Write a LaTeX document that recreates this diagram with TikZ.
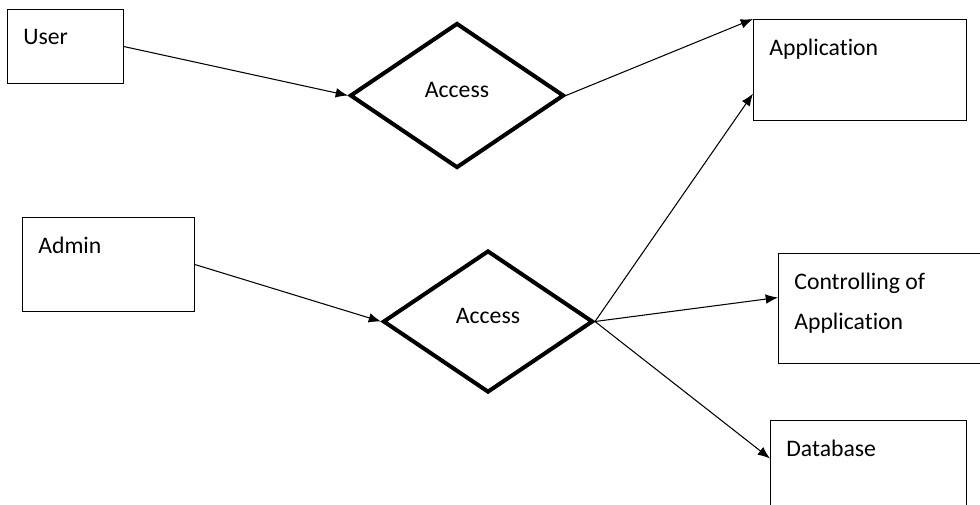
\documentclass[tikz,border=0pt]{standalone}
\usepackage{fontspec}
\setmainfont{Carlito}[Ligatures=NoCommon]
\usetikzlibrary{shapes.geometric,arrows.meta,calc}

\tikzset{
  entity/.style={draw, line width=0.7pt, anchor=north west, inner sep=0pt},
  entname/.style={anchor=north west, inner sep=0pt, xshift=0.32cm, yshift=-0.4cm, align=left},
  relation/.style={draw, diamond, line width=2.3pt, inner sep=0pt, text depth=0.24cm},
  link/.style={line width=0.6pt, -{Latex[length=7pt,width=5.5pt]}}
}

\begin{document}
\begin{tikzpicture}[x=0.02cm, y=-0.02cm, font=\fontsize{13.5}{22.7}\selectfont]
\useasboundingbox (0,0) rectangle (980,504);
% actors
\node[entity, minimum width=2.32cm, minimum height=1.48cm, label={[entname]north west:User}] (U) at (7,9) {};
\node[entity, minimum width=3.44cm, minimum height=1.88cm, label={[entname]north west:Admin}] (Ad) at (22,217) {};
% relations
\node[relation, minimum width=4.28cm, minimum height=2.9cm] (A1) at (457,95.5) {Access};
\node[relation, minimum width=4.2cm, minimum height=2.84cm] (A2) at (488,321.5) {Access};
% targets
\node[entity, minimum width=4.26cm, minimum height=2.02cm, label={[entname]north west:Application}] (App) at (753,19) {};
\node[entity, minimum width=4.34cm, minimum height=2.2cm, label={[entname]north west:Controlling of\\Application}] (Ctrl) at (778,253) {};
\node[entity, minimum width=3.92cm, minimum height=2cm, label={[entname]north west:Database}] (DB) at (770,420) {};

\draw[link] (U.east) -- (A1.west);
\draw[link] (A1.east) -- (App.north west);
\draw[link] (Ad.east) -- (A2.west);
\draw[link] (A2.east) -- ($(App.north west)!0.73!(App.south west)$);
\draw[link] (A2.east) -- ($(Ctrl.north west)!0.4!(Ctrl.south west)$);
\draw[link] (A2.east) -- ($(DB.north west)!0.38!(DB.south west)$);
\end{tikzpicture}
\end{document}
